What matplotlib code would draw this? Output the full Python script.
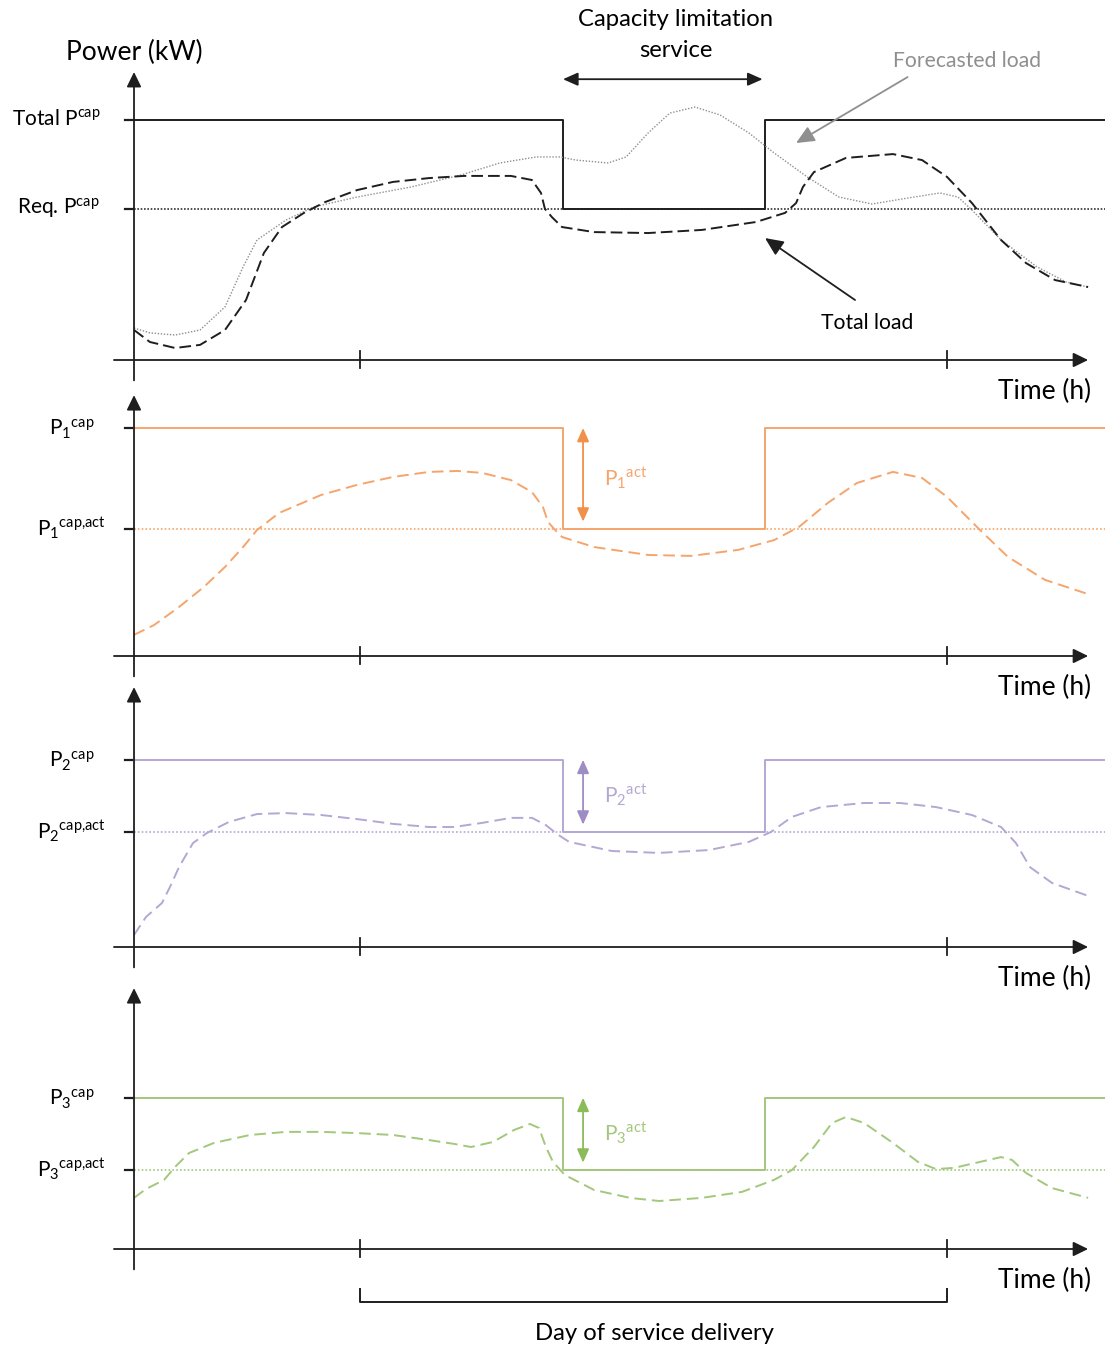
import matplotlib.pyplot as plt

plt.rcParams['font.family'] = ['Lato', 'DejaVu Sans']
plt.rcParams['mathtext.default'] = 'regular'

# time in hours, 0 and 24 bound the day of service delivery
t_axis = -9.24
t_right = 30.46
window = (8.3, 16.56)          # capacity limitation service

# panel 1: total load (kW)
total_cap = 100
total_req = 63
load_t = [-9.24, -8.59, -7.56, -6.54, -5.52, -4.66, -3.93, -3.19, -2.29, -1.43, -0.12, 1.35, 2.82,
          4.25, 6.17, 7.03, 7.40, 7.56, 7.85, 8.26, 9.57, 11.78, 13.98, 16.19, 17.38, 17.83, 18.11,
          18.56, 19.87, 21.79, 22.98, 24.0, 25.02, 26.21, 27.23, 28.42, 29.77]
load_p = [12.5, 7.5, 5.0, 6.3, 12.5, 25.0, 44.6, 55.4, 61.3, 65.8, 70.8, 74.2, 75.8,
          76.7, 76.7, 75.0, 69.6, 63.0, 59.5, 55.4, 53.3, 52.9, 54.2, 57.5, 61.3, 65.4, 72.1,
          78.3, 84.2, 85.8, 83.3, 76.3, 65.4, 50.0, 40.4, 33.3, 30.4]
fc_t = [-9.24, -8.59, -7.56, -6.54, -5.52, -4.78, -4.21, -3.03, -1.88, -0.12, 2.09, 4.13, 5.72,
        7.20, 8.18, 8.83, 10.14, 10.88, 11.78, 12.67, 13.70, 14.72, 15.90, 16.93, 18.28, 19.58,
        20.93, 22.41, 23.71, 24.45, 25.02, 26.21, 27.68, 28.87, 29.77]
fc_p = [13.3, 11.3, 10.4, 12.5, 22.1, 38.8, 50.0, 58.3, 63.8, 67.9, 72.1, 77.1, 82.1,
        84.6, 84.6, 83.3, 82.1, 84.6, 94.6, 102.9, 105.4, 102.1, 94.6, 86.3, 76.3, 67.9,
        65.0, 67.5, 69.6, 67.9, 62.5, 50.0, 38.8, 32.5, 30.4]

# panels 2-4: the three assets
p1_cap, p1_act = 95, 53
p1_t = [-9.24, -8.42, -7.40, -6.38, -5.52, -4.78, -4.21, -3.31, -1.59, -0.12, 1.35, 2.82, 3.97,
        4.99, 6.17, 7.03, 7.48, 7.69, 8.05, 8.26, 9.57, 11.78, 13.53, 15.46, 16.93, 17.95, 19.13,
        20.32, 21.79, 22.98, 24.0, 25.35, 26.49, 28.01, 29.77]
p1_p = [8.8, 12.9, 20.4, 28.8, 37.1, 45.4, 52.5, 59.6, 67.1, 71.3, 74.6, 76.7, 77.1,
        76.3, 73.3, 68.3, 62.1, 55.8, 51.7, 49.6, 45.4, 42.1, 41.7, 44.2, 48.3, 53.8, 63.8,
        72.1, 76.7, 74.2, 66.3, 52.5, 41.3, 31.7, 25.8]

p2_cap, p2_act = 78, 48
p2_t = [-9.24, -8.75, -8.10, -7.77, -7.40, -6.83, -6.26, -5.36, -4.21, -3.03, -1.59, -0.12, 1.35,
        2.82, 3.84, 4.99, 6.17, 7.03, 7.60, 8.05, 8.55, 10.30, 12.23, 14.27, 15.90, 16.80, 17.66,
        18.85, 20.61, 22.08, 23.55, 25.02, 26.21, 26.82, 27.39, 28.29, 29.77]
p2_p = [5.0, 12.5, 18.3, 25.0, 33.3, 43.3, 47.5, 52.1, 55.4, 55.8, 55.0, 53.3, 51.3,
        50.0, 50.0, 51.7, 53.8, 53.8, 50.8, 47.1, 43.8, 40.0, 39.2, 40.4, 43.8, 47.9, 54.2,
        58.3, 60.0, 60.0, 58.3, 55.0, 50.0, 43.3, 33.3, 26.7, 21.3]

p3_cap, p3_act = 63, 33
p3_t = [-9.24, -8.75, -8.01, -7.56, -6.99, -5.97, -4.50, -3.03, -1.59, -0.12, 1.35, 2.82, 3.84,
        4.54, 5.44, 6.30, 6.95, 7.32, 7.60, 7.89, 8.38, 9.57, 11.04, 12.23, 13.98, 15.62, 16.93,
        17.66, 18.56, 19.30, 19.87, 20.61, 21.79, 22.81, 23.55, 24.29, 25.35, 26.21, 26.66,
        27.23, 28.29, 29.77]
p3_p = [21.3, 25.0, 28.8, 34.2, 40.0, 44.2, 47.5, 48.8, 48.8, 48.3, 47.5, 45.4, 43.8,
        42.5, 44.6, 49.6, 52.1, 50.4, 42.5, 36.3, 30.8, 24.6, 21.3, 20.0, 21.3, 23.8, 28.8,
        32.9, 42.5, 52.5, 55.0, 52.5, 44.2, 36.3, 33.3, 33.8, 36.3, 38.3, 37.1,
        31.7, 25.4, 21.3]

AX = '#1e1e1e'
GREY = '#8f8f8f'
W, H = 1105, 1346
PX_KW = 2.4          # pixels per kW on every panel
PX_H = 24.458        # pixels per hour
X0 = 360             # pixel column of t = 0

fig = plt.figure(figsize=(W / 100, H / 100), dpi=100)


def panel(top, bottom, zero):
    ax = fig.add_axes([0, 1 - bottom / H, 1, (bottom - top) / H])
    ax.set_xlim(-X0 / PX_H, (W - X0) / PX_H)
    ax.set_ylim((zero - bottom) / PX_KW, (zero - top) / PX_KW)
    ax.axis('off')
    return ax


def frame(ax, y_top, levels):
    arr = dict(arrowstyle='-|>,head_length=0.45,head_width=0.22', mutation_scale=20,
               lw=1.3, color=AX, shrinkA=0, shrinkB=0)
    ax.annotate('', xy=(29.77, 0), xytext=(-10.06, 0), arrowprops=arr)
    ax.annotate('', xy=(t_axis, y_top), xytext=(t_axis, -8.5), arrowprops=arr)
    for t in (0, 24):
        ax.plot([t, t], [-3.4, 3.6], color=AX, lw=1.3)
    for lv in levels:
        ax.plot([-9.62, t_axis], [lv, lv], color=AX, lw=1.6)
    ax.text(29.89, -13.3, 'Time (h)', ha='right', va='center', fontsize=19)


def step(ax, cap, act, color):
    ax.plot([t_axis, window[0], window[1], t_right], [cap, act, cap, cap],
            drawstyle='steps-post', color=color, lw=1.4)


# ---- panel 1
ax = panel(0, 388, 360)
frame(ax, 120, [total_cap, total_req])
ax.plot([t_axis, t_right], [total_req, total_req], color='#333333', lw=1.2, ls=(0, (1, 1)))
step(ax, total_cap, total_req, AX)
ax.plot(fc_t, fc_p, color=GREY, lw=1.0, ls=(0, (1, 1.2)))
ax.plot(load_t, load_p, color=AX, lw=1.4, ls=(0, (6, 2.6)))
ax.text(t_axis, 128, 'Power (kW)', ha='center', va='center', fontsize=19)
ax.text(-10.6, total_cap - 2, 'Total $P^{cap}$', ha='right', va='baseline', fontsize=15)
ax.text(-10.65, total_req - 2, 'Req. $P^{cap}$', ha='right', va='baseline', fontsize=15)
ax.text(12.92, 141.7, 'Capacity limitation', ha='center', va='center', fontsize=17.2)
ax.text(12.92, 128.8, 'service', ha='center', va='center', fontsize=17.2)
ax.annotate('', xy=(window[1] - 0.1, 117), xytext=(window[0], 117),
            arrowprops=dict(arrowstyle='<|-|>,head_length=0.45,head_width=0.2', mutation_scale=20,
                            lw=1.3, color=AX, shrinkA=0, shrinkB=0))
ax.text(21.79, 124.6, 'Forecasted load', ha='left', va='center', fontsize=15.2, color=GREY)
ax.annotate('', xy=(17.83, 90.4), xytext=(22.39, 117.9),
            arrowprops=dict(arrowstyle='-|>,head_length=0.55,head_width=0.25', mutation_scale=20,
                            lw=1.3, color=GREY, shrinkA=0, shrinkB=0))
ax.text(18.85, 15.4, 'Total load', ha='left', va='center', fontsize=15.2)
ax.annotate('', xy=(16.56, 50.8), xytext=(20.24, 25),
            arrowprops=dict(arrowstyle='-|>,head_length=0.55,head_width=0.25', mutation_scale=20,
                            lw=1.3, color=AX, shrinkA=0, shrinkB=0))

# ---- panels 2-4
assets = [
    (388, 680, 656, 108.7, p1_cap, p1_act, p1_t, p1_p, '1', '#F5A56B', '#F0904A'),
    (680, 975, 947, 108.3, p2_cap, p2_act, p2_t, p2_p, '2', '#B4A7D4', '#9D8DC4'),
    (975, 1346, 1249, 108.7, p3_cap, p3_act, p3_t, p3_p, '3', '#A3C77B', '#8CBB5A'),
]
for top, bottom, zero, ytop, cap, act, ts, ps, k, col, dark in assets:
    ax = panel(top, bottom, zero)
    frame(ax, ytop, [cap, act])
    ax.plot([t_axis, t_right], [act, act], color=col, lw=1.2, ls=(0, (1, 1.3)))
    step(ax, cap, act, col)
    ax.plot(ts, ps, color=col, lw=1.4, ls=(0, (6, 3)))
    ax.text(-10.85, cap - 3, '$P_%s{}^{cap}$' % k, ha='right', va='baseline', fontsize=15)
    ax.text(-10.4, act - 3, '$P_%s{}^{cap{,}act}$' % k, ha='right', va='baseline', fontsize=15)
    ax.annotate('', xy=(9.12, act + 3), xytext=(9.12, cap),
                arrowprops=dict(arrowstyle='<|-|>,head_length=0.45,head_width=0.2',
                                mutation_scale=18, lw=1.3, color=dark, shrinkA=0, shrinkB=0))
    ax.text(9.98, (cap + act) / 2 - 3, '$P_%s{}^{act}$' % k, ha='left', va='baseline',
            fontsize=15, color=col)

# bracket for the day of service delivery
ax.plot([0, 0, 24, 24], [-16.7, -22.1, -22.1, -16.7], color=AX, lw=1.4)
ax.text(12.02, -35.4, 'Day of service delivery', ha='center', va='center', fontsize=17.2)

fig.savefig('out.png', dpi=100)
